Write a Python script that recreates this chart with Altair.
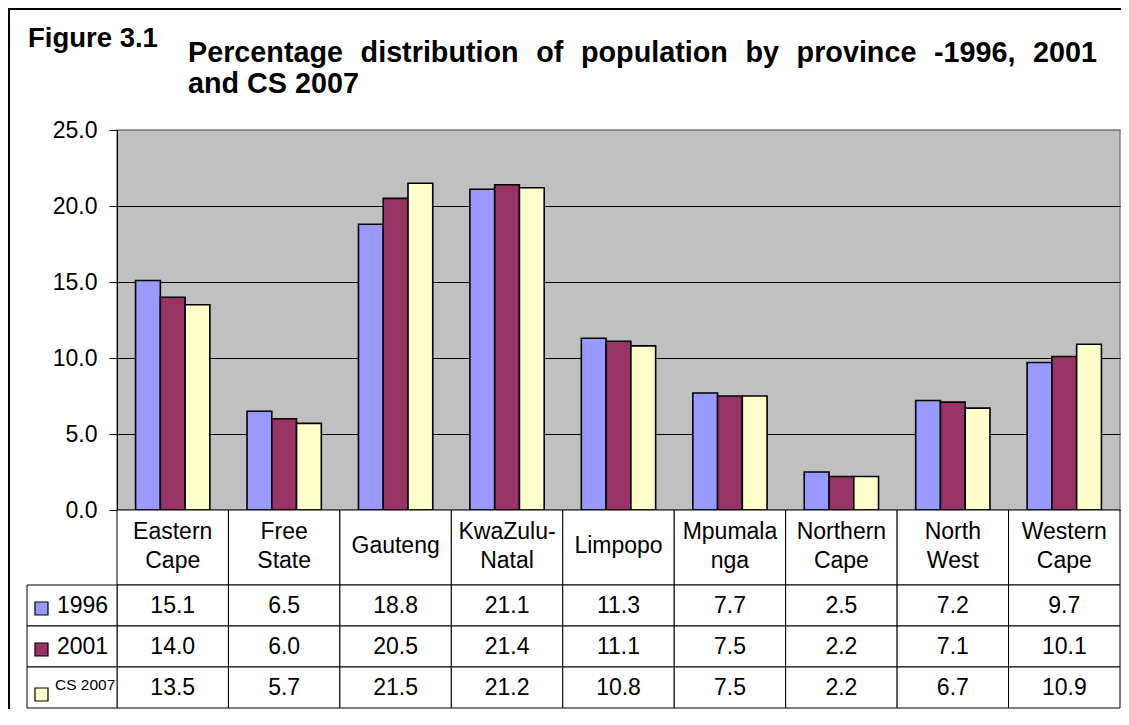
import altair as alt
import pandas as pd

# ---------------- data ----------------
provinces = ["Eastern Cape", "Free State", "Gauteng", "KwaZulu-Natal", "Limpopo",
             "Mpumalanga", "Northern Cape", "North West", "Western Cape"]
province_labels = ["Eastern\nCape", "Free\nState", "Gauteng", "KwaZulu-\nNatal", "Limpopo",
                   "Mpumala\nnga", "Northern\nCape", "North\nWest", "Western\nCape"]
series = ["1996", "2001", "CS 2007"]
v1996 = [15.1, 6.5, 18.8, 21.1, 11.3, 7.7, 2.5, 7.2, 9.7]
v2001 = [14.0, 6.0, 20.5, 21.4, 11.1, 7.5, 2.2, 7.1, 10.1]
v2007 = [13.5, 5.7, 21.5, 21.2, 10.8, 7.5, 2.2, 6.7, 10.9]
colors = ["#9999FF", "#993366", "#FFFFCC"]
y_ticks = [0, 5, 10, 15, 20, 25]

title_fig = "Figure 3.1"
title_words = ["Percentage", "distribution", "of", "population", "by", "province", "-1996,", "2001"]
title_line2 = "and CS 2007"

# ---------------- tables ----------------
rows = []
for s, vals in zip(series, [v1996, v2001, v2007]):
    for p, v in zip(provinces, vals):
        rows.append({"province": p, "series": s, "value": v, "label": f"{v:.1f}"})
df = pd.DataFrame(rows)
labels_df = pd.DataFrame({"province": provinces, "label": province_labels})
legend_df = pd.DataFrame({"series": series})
one = pd.DataFrame({"t": [title_fig]})
sep = "\u00a0\u2004"
main_title = pd.DataFrame({"t": [sep.join(title_words) + "\n" + title_line2]})

FONT = "Liberation Sans"

# ---------------- bars ----------------
bars = alt.Chart(df).mark_bar(stroke="black", strokeWidth=1.6).encode(
    x=alt.X("province:N", sort=provinces,
            scale=alt.Scale(domain=provinces, paddingInner=1 / 3, paddingOuter=1 / 6),
            axis=alt.Axis(labels=False, ticks=False, title=None, grid=False,
                          domainColor="black", domainWidth=1)),
    xOffset=alt.XOffset("series:N", sort=series,
                        scale=alt.Scale(domain=series, paddingInner=0, paddingOuter=0)),
    y=alt.Y("value:Q", scale=alt.Scale(domain=[0, 25], nice=False),
            axis=alt.Axis(values=y_ticks, format=".1f", title=None,
                          labelFont=FONT, labelFontSize=23, labelColor="black",
                          labelPadding=12, tickSize=8, tickColor="black", tickWidth=1,
                          domainColor="black", domainWidth=1,
                          gridColor={"condition": {"test": "datum.value === 25", "value": "#808080"},
                                     "value": "black"},
                          gridWidth=1)),
    color=alt.Color("series:N", sort=series,
                    scale=alt.Scale(domain=series, range=colors), legend=None),
)

# ---------------- table ----------------
x_tab = alt.X("province:N", sort=provinces,
              scale=alt.Scale(type="band", domain=provinces, paddingInner=0, paddingOuter=0),
              axis=None)
y_tab = alt.Y("series:N", sort=series,
              scale=alt.Scale(type="band", domain=series, range=[455, 578],
                              paddingInner=0, paddingOuter=0), axis=None)

cells = alt.Chart(df).mark_rect(fill="white", stroke="black", strokeWidth=1).encode(
    x=x_tab, y=y_tab)
values_txt = alt.Chart(df).mark_text(font=FONT, fontSize=23, color="black", baseline="middle").encode(
    x=x_tab, y=y_tab, text="label:N")

label_cells = alt.Chart(labels_df).mark_rect(fill="white", stroke="black", strokeWidth=1).encode(
    x=x_tab, y=alt.value(380), y2=alt.value(455))
label_txt1 = alt.Chart(labels_df).transform_filter("indexof(datum.label, '\\n') < 0").mark_text(
    font=FONT, fontSize=23, color="black", baseline="middle").encode(
    x=x_tab, y=alt.value(416), text="label:N")
label_txt2 = alt.Chart(labels_df).transform_filter("indexof(datum.label, '\\n') >= 0").mark_text(
    font=FONT, fontSize=23, color="black", lineBreak="\n", lineHeight=29, baseline="middle").encode(
    x=x_tab, y=alt.value(401.5), text="label:N")

legend_cells = alt.Chart(legend_df).mark_rect(fill="white", stroke="black", strokeWidth=1).encode(
    x=alt.value(-90), x2=alt.value(0), y=y_tab)
legend_sq12 = alt.Chart(legend_df).transform_filter("datum.series !== 'CS 2007'").mark_square(
    size=169, filled=True, stroke="black", strokeWidth=1.2, opacity=1, yOffset=3).encode(
    x=alt.value(-75.5), y=y_tab,
    color=alt.Color("series:N", scale=alt.Scale(domain=series, range=colors), legend=None))
legend_sq3 = alt.Chart(legend_df).transform_filter("datum.series === 'CS 2007'").mark_square(
    size=169, filled=True, stroke="black", strokeWidth=1.2, opacity=1, yOffset=7).encode(
    x=alt.value(-75.5), y=y_tab,
    color=alt.Color("series:N", scale=alt.Scale(domain=series, range=colors), legend=None))
legend_txt12 = alt.Chart(legend_df).transform_filter("datum.series !== 'CS 2007'").mark_text(
    font=FONT, fontSize=23, color="black", align="left", baseline="middle").encode(
    x=alt.value(-60), y=y_tab, text="series:N")
legend_txt3 = alt.Chart(legend_df).transform_filter("datum.series === 'CS 2007'").mark_text(
    font=FONT, fontSize=15.5, color="black", align="left", baseline="middle", dy=-3).encode(
    x=alt.value(-62), y=y_tab, text="series:N")

# ---------------- titles & frame ----------------
fig_txt = alt.Chart(one).mark_text(font=FONT, fontSize=27.5, fontWeight="bold", color="black",
                                   align="left", baseline="alphabetic").encode(
    x=alt.value(-89), y=alt.value(-83), text="t:N")
title_txt = alt.Chart(main_title).mark_text(font=FONT, fontSize=28.75, fontWeight="bold", color="black",
                                            align="left", baseline="alphabetic",
                                            lineBreak="\n", lineHeight=31).encode(
    x=alt.value(71), y=alt.value(-68), text="t:N")
frame = alt.Chart(one).mark_rect(fill="transparent", stroke="black", strokeWidth=2).encode(
    x=alt.value(-108), x2=alt.value(1040), y=alt.value(-121), y2=alt.value(640))

chart = alt.layer(
    frame, bars, label_cells, label_txt1, label_txt2, cells, values_txt,
    legend_cells, legend_sq12, legend_sq3, legend_txt12, legend_txt3,
    fig_txt, title_txt,
).resolve_scale(x="independent", y="independent").properties(
    width=1003, height=380,
    autosize=alt.AutoSizeParams(type="none"),
    padding={"left": 109, "top": 122, "right": 1, "bottom": 199},
    background="white",
).configure_view(fill="#C0C0C0", stroke="#808080", strokeWidth=1.5)

chart.save("out.html", embed_options={"renderer": "svg", "actions": False})
